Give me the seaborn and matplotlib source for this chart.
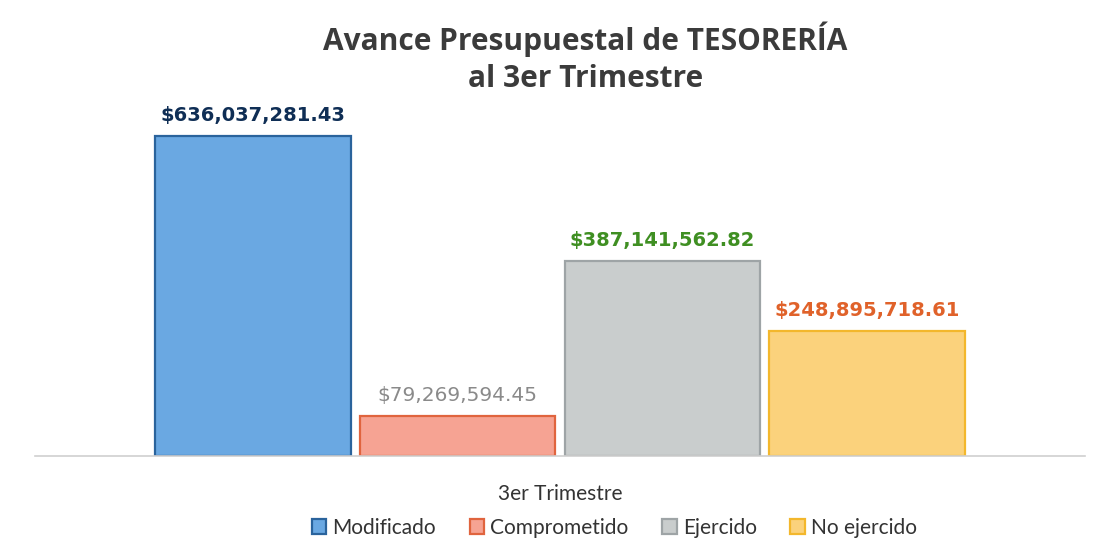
import matplotlib
matplotlib.use("Agg")
import matplotlib.pyplot as plt
import seaborn as sns
import pandas as pd

periodo = ["3er Trimestre"]
conceptos = ["Modificado", "Comprometido", "Ejercido", "No ejercido"]
montos = [636037281.43, 79269594.45, 387141562.82, 248895718.61]
etiquetas = ["$636,037,281.43", "$79,269,594.45", "$387,141,562.82", "$248,895,718.61"]

fills = ["#6aa8e2", "#f6a393", "#c9cdcd", "#fbd27c"]
edges = ["#2a639c", "#e0643e", "#9ea4a6", "#f3b72c"]
label_colors = ["#0f2e55", "#8a8a8a", "#3f8f22", "#e0622a"]
label_weights = ["bold", "normal", "bold", "bold"]
label_sizes = [14, 14.5, 14, 14]

df = pd.DataFrame({"Periodo": periodo * len(conceptos), "Concepto": conceptos, "Monto": montos})

sns.set_style("white")
plt.rcParams["font.family"] = ["Lato", "DejaVu Sans"]

fig = plt.figure(figsize=(11.05, 5.48), dpi=100)
ax = fig.add_axes([35/1105, 92/548, 1050/1105, 352/548])

sns.barplot(data=df, x="Periodo", y="Monto", hue="Concepto", hue_order=conceptos,
            palette=fills, width=0.78, gap=0.045, ax=ax, legend=False, saturation=1)

for cont, ec in zip(ax.containers, edges):
    for p in cont.patches:
        p.set_edgecolor(ec)
        p.set_linewidth(1.6)

for cont, txt, col, w, fs in zip(ax.containers, etiquetas, label_colors, label_weights, label_sizes):
    p = cont.patches[0]
    ax.annotate(txt, (p.get_x() + p.get_width()/2, p.get_height()),
                xytext=(0, 8), textcoords="offset points", ha="center", va="bottom",
                fontsize=fs, color=col, fontweight=w, family=["DejaVu Sans"])

ax.set_ylim(0, 700e6)
ax.set_xlim(-0.5, 0.5)
ax.set_yticks([])
ax.set_ylabel("")
ax.set_xlabel("")
ax.tick_params(axis="x", length=0, labelsize=15, colors="#333333", pad=20)
for s in ["top", "right", "left"]:
    ax.spines[s].set_visible(False)
ax.spines["bottom"].set_color("#d0d0d0")
ax.spines["bottom"].set_linewidth(1.2)

fig.text(0.53, 0.96, "Avance Presupuestal de TESORERÍA\nal 3er Trimestre", ha="center", va="top",
         fontsize=21.5, fontweight="bold", color="#3b3b3b", linespacing=1.3,
         family=["Open Sans", "DejaVu Sans"])

leg = fig.legend(handles=list(ax.containers), labels=conceptos, loc="center",
                 bbox_to_anchor=(0.556, 1 - 528/548), ncol=4, frameon=False,
                 fontsize=15, handlelength=0.7, handleheight=0.7, handletextpad=0.3,
                 columnspacing=1.6)
for t in leg.get_texts():
    t.set_color("#333333")

fig.savefig("out.png", dpi=100, facecolor="white")
